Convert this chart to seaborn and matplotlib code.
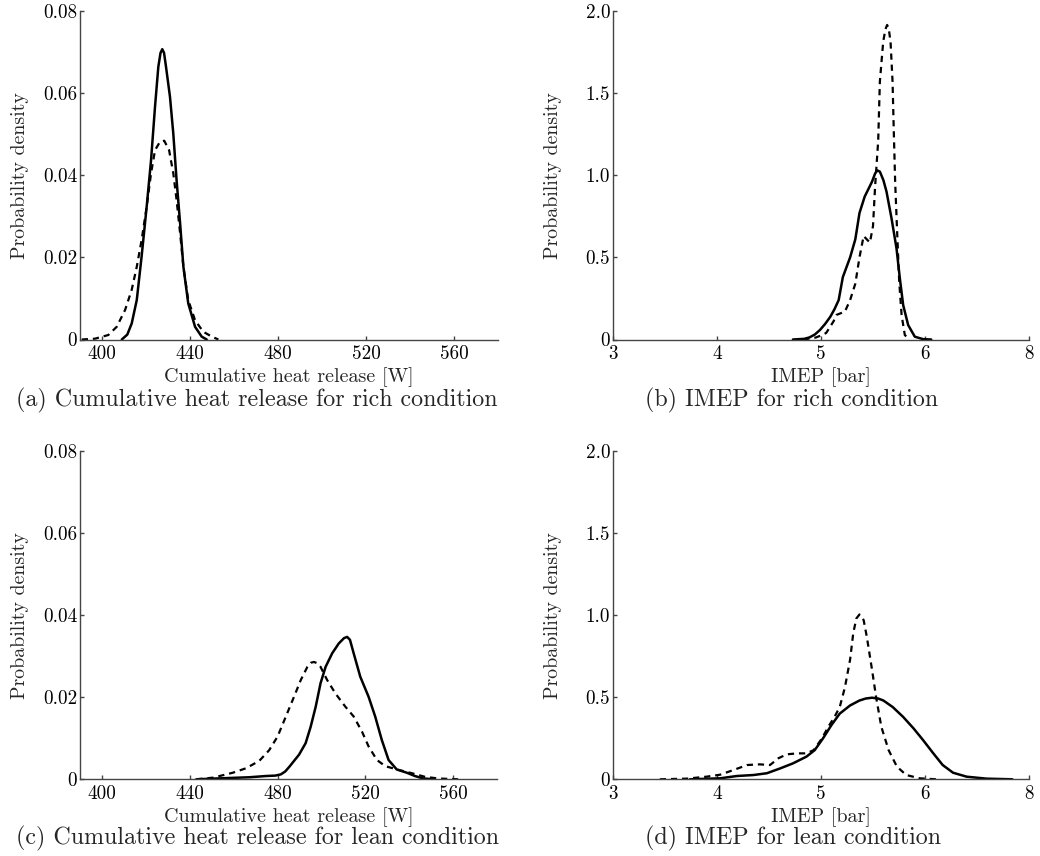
import matplotlib
matplotlib.use("Agg")
import matplotlib.pyplot as plt
import seaborn as sns
import pandas as pd

# ---- (a) cumulative heat release, rich condition ----
heat_rich_solid_x = [409.0, 411.5, 413.5, 415.8, 418.0, 420.3, 422.3, 424.1, 425.6, 426.6, 427.4, 428.2, 429.1, 430.9, 432.4, 433.9, 435.5, 437.0, 439.2, 442.3, 445.3, 447.6]
heat_rich_solid_y = [0.0, 0.0012, 0.0039, 0.0096, 0.0202, 0.0323, 0.0437, 0.0567, 0.0664, 0.0698, 0.0707, 0.0698, 0.0664, 0.0591, 0.0502, 0.0388, 0.0283, 0.0177, 0.0088, 0.0031, 0.0007, 0.0]
heat_rich_dash_x = [390.8, 396.8, 402.9, 406.7, 410.5, 413.5, 415.8, 418.0, 420.3, 422.3, 424.1, 426.4, 428.3, 430.5, 432.4, 433.9, 435.5, 437.0, 439.2, 442.3, 446.0, 449.9, 452.9]
heat_rich_dash_y = [0.0, 0.0002, 0.0011, 0.0031, 0.0072, 0.0121, 0.0177, 0.0242, 0.0323, 0.0405, 0.0461, 0.0482, 0.0484, 0.0461, 0.0405, 0.0340, 0.0259, 0.0177, 0.0096, 0.0047, 0.0019, 0.0007, 0.0]

# ---- (b) IMEP, rich condition ----
imep_rich_solid_x = [4.73, 4.84, 4.89, 4.94, 4.99, 5.04, 5.09, 5.13, 5.17, 5.21, 5.28, 5.33, 5.37, 5.42, 5.49, 5.52, 5.54, 5.566, 5.60, 5.63, 5.678, 5.726, 5.758, 5.79, 5.838, 5.902, 5.982, 6.06]
imep_rich_solid_y = [0.0, 0.004, 0.013, 0.03, 0.058, 0.095, 0.139, 0.185, 0.24, 0.38, 0.50, 0.61, 0.77, 0.87, 0.96, 1.01, 1.03, 1.022, 0.97, 0.90, 0.738, 0.555, 0.373, 0.21, 0.088, 0.017, 0.002, 0.0]
imep_rich_dash_x = [4.83, 4.95, 5.01, 5.05, 5.12, 5.15, 5.23, 5.28, 5.33, 5.37, 5.41, 5.44, 5.47, 5.50, 5.52, 5.55, 5.566, 5.598, 5.62, 5.636, 5.652, 5.669, 5.688, 5.70, 5.713, 5.732, 5.752, 5.775, 5.806, 5.854]
imep_rich_dash_y = [0.0, 0.012, 0.027, 0.04, 0.11, 0.15, 0.17, 0.24, 0.34, 0.50, 0.63, 0.61, 0.59, 0.69, 0.93, 1.21, 1.57, 1.813, 1.89, 1.915, 1.89, 1.81, 1.57, 1.265, 0.96, 0.656, 0.352, 0.149, 0.027, 0.0]

# ---- (c) cumulative heat release, lean condition ----
heat_lean_solid_x = [443.0, 452.1, 467.2, 474.7, 479.0, 481.5, 483.5, 485.3, 489.8, 492.8, 495.1, 497.4, 499.6, 501.9, 504.9, 507.9, 510.3, 511.7, 513.0, 514.7, 517.7, 521.5, 524.5, 527.5, 530.6, 534.3, 538.9, 542.6, 546.4, 551.7]
heat_lean_solid_y = [0.0, 0.0002, 0.0005, 0.0008, 0.0009, 0.0012, 0.0019, 0.0030, 0.0060, 0.0088, 0.0128, 0.0177, 0.0234, 0.0274, 0.0307, 0.0331, 0.0344, 0.0347, 0.0340, 0.0307, 0.0250, 0.0201, 0.0153, 0.0096, 0.0047, 0.0024, 0.0016, 0.0008, 0.0002, 0.0]
heat_lean_dash_x = [443.0, 450.6, 459.6, 465.7, 471.7, 476.2, 480.0, 483.8, 487.5, 490.6, 493.6, 495.2, 496.6, 498.0, 499.6, 502.6, 506.4, 510.9, 514.7, 518.5, 521.5, 525.3, 529.1, 535.1, 541.1, 547.2, 553.2, 562.3]
heat_lean_dash_y = [0.0, 0.0004, 0.0016, 0.0027, 0.0045, 0.0071, 0.0104, 0.0153, 0.0201, 0.0242, 0.0274, 0.0284, 0.0286, 0.0283, 0.0274, 0.0242, 0.0209, 0.0177, 0.0153, 0.0116, 0.0080, 0.0047, 0.0032, 0.0023, 0.0015, 0.0006, 0.0002, 0.0]

# ---- (d) IMEP, lean condition ----
imep_lean_solid_x = [3.74, 4.03, 4.19, 4.35, 4.48, 4.61, 4.73, 4.86, 4.94, 5.02, 5.10, 5.18, 5.28, 5.37, 5.43, 5.49, 5.55, 5.60, 5.69, 5.79, 5.89, 5.98, 6.08, 6.17, 6.27, 6.40, 6.59, 6.84]
imep_lean_solid_y = [0.0, 0.006, 0.020, 0.026, 0.037, 0.067, 0.097, 0.138, 0.178, 0.25, 0.33, 0.40, 0.45, 0.48, 0.492, 0.497, 0.492, 0.48, 0.44, 0.38, 0.31, 0.24, 0.158, 0.087, 0.040, 0.016, 0.004, 0.0]
imep_lean_dash_x = [3.45, 3.71, 3.90, 4.03, 4.16, 4.29, 4.41, 4.51, 4.59, 4.67, 4.77, 4.86, 4.93, 5.01, 5.07, 5.13, 5.18, 5.23, 5.28, 5.31, 5.34, 5.37, 5.41, 5.44, 5.49, 5.53, 5.58, 5.65, 5.73, 5.82, 5.95, 6.11]
imep_lean_dash_y = [0.0, 0.004, 0.016, 0.028, 0.057, 0.087, 0.091, 0.087, 0.128, 0.152, 0.158, 0.158, 0.178, 0.25, 0.32, 0.38, 0.44, 0.56, 0.73, 0.89, 0.98, 1.004, 0.97, 0.87, 0.67, 0.50, 0.32, 0.178, 0.077, 0.026, 0.006, 0.0]

# ---- axis ticks and labels ----
heat_xticks = [400, 440, 480, 520, 560]
heat_xticklabels = ["400", "440", "480", "520", "560"]
heat_yticks = [0, 0.02, 0.04, 0.06, 0.08]
heat_yticklabels = ["0", "0.02", "0.04", "0.06", "0.08"]
imep_xticks = [3, 4, 5, 6, 7]
imep_xticklabels = ["3", "4", "5", "6", "8"]
imep_yticks = [0, 0.5, 1.0, 1.5, 2.0]
imep_yticklabels = ["0", "0.5", "1.0", "1.5", "2.0"]

heat_label = "Cumulative heat release [W]"
imep_label = "IMEP [bar]"
ylabel = "Probability density"
captions = [
    "(a) Cumulative heat release for rich condition",
    "(b) IMEP for rich condition",
    "(c) Cumulative heat release for lean condition",
    "(d) IMEP for lean condition",
]

sns.set_theme(style="ticks")
plt.rcParams.update({
    "font.family": ["cmr10", "DejaVu Serif"],
    "mathtext.fontset": "cm",
    "axes.formatter.use_mathtext": True,
    "axes.edgecolor": "#444444",
    "axes.linewidth": 1.0,
    "xtick.color": "#444444",
    "ytick.color": "#444444",
    "xtick.labelcolor": "black",
    "ytick.labelcolor": "black",
    "xtick.direction": "in",
    "ytick.direction": "in",
    "xtick.major.size": 3,
    "ytick.major.size": 3,
    "xtick.major.width": 1.0,
    "ytick.major.width": 1.0,
    "xtick.major.pad": 4,
    "ytick.major.pad": 2,
})

W, H = 1040, 856
fig = plt.figure(figsize=(W / 100, H / 100), dpi=100)

# axes boxes in pixels: left, top, right, bottom
boxes = [(80, 11, 498, 339.5), (613, 11, 1029, 339.5),
         (80, 451, 497, 779.3), (613, 451, 1029, 779.3)]

panels = [
    (heat_rich_solid_x, heat_rich_solid_y, heat_rich_dash_x, heat_rich_dash_y, "heat"),
    (imep_rich_solid_x, imep_rich_solid_y, imep_rich_dash_x, imep_rich_dash_y, "imep"),
    (heat_lean_solid_x, heat_lean_solid_y, heat_lean_dash_x, heat_lean_dash_y, "heat"),
    (imep_lean_solid_x, imep_lean_solid_y, imep_lean_dash_x, imep_lean_dash_y, "imep"),
]
caption_x = [257, 792, 258, 793]
caption_y = [400, 400, 838, 838]
xlabel_y = [377, 377, 817, 817]

for i, ((sx, sy, dx, dy, kind), box) in enumerate(zip(panels, boxes)):
    l, t, r, b = box
    ax = fig.add_axes([l / W, 1 - b / H, (r - l) / W, (b - t) / H])
    solid = pd.DataFrame({"x": sx, "y": sy})
    dashed = pd.DataFrame({"x": dx, "y": dy})
    sns.lineplot(data=solid, x="x", y="y", ax=ax, color="black", lw=1.8,
                 sort=False, estimator=None, solid_joinstyle="round")
    sns.lineplot(data=dashed, x="x", y="y", ax=ax, color="black", lw=1.6,
                 linestyle=(0, (2.8, 2.2)), sort=False, estimator=None,
                 dash_joinstyle="round")
    if kind == "heat":
        ax.set_xlim(390, 580)
        ax.set_ylim(0, 0.08)
        ax.set_xticks(heat_xticks, heat_xticklabels)
        ax.set_yticks(heat_yticks, heat_yticklabels)
        xl = heat_label
    else:
        ax.set_xlim(3, 7)
        ax.set_ylim(0, 2.0)
        ax.set_xticks(imep_xticks, imep_xticklabels)
        ax.set_yticks(imep_yticks, imep_yticklabels)
        xl = imep_label
    ax.tick_params(labelsize=13.8)
    sns.despine(ax=ax)
    ax.set_xlabel("")
    ax.set_ylabel("")
    cx = (l + r) / 2
    fig.text(cx / W, 1 - xlabel_y[i] / H, xl, ha="center", va="center", fontsize=14.5)
    fig.text((l - 60) / W, 1 - ((t + b) / 2) / H, ylabel, rotation=90,
             ha="center", va="center", fontsize=14.3)
    fig.text(caption_x[i] / W, 1 - caption_y[i] / H, captions[i],
             ha="center", va="center", fontsize=17.3)

fig.savefig("out.png", dpi=100)
